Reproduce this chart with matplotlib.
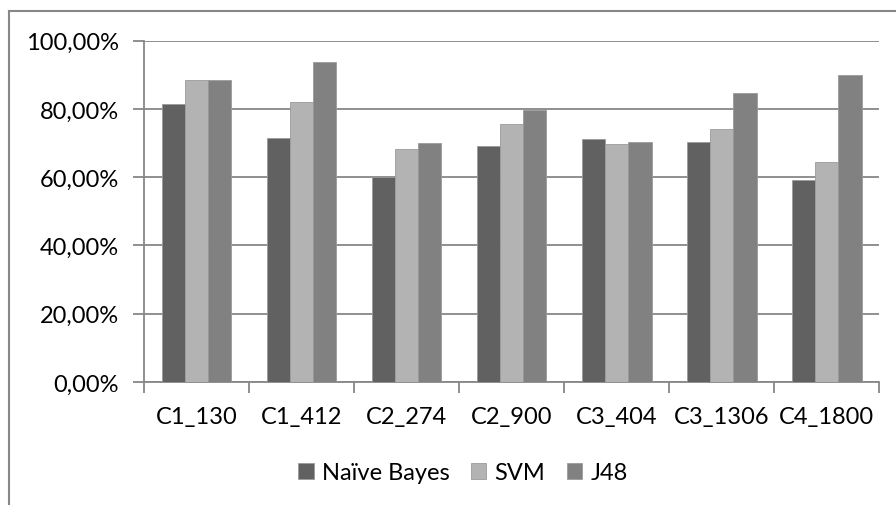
import numpy as np
import matplotlib.pyplot as plt
from matplotlib.lines import Line2D
from matplotlib.ticker import FuncFormatter

plt.rcParams['font.family'] = ['Lato', 'DejaVu Sans']

categories = ['C1_130', 'C1_412', 'C2_274', 'C2_900', 'C3_404', 'C3_1306', 'C4_1800']
naive_bayes = [81.5, 71.6, 60.0, 69.1, 71.2, 70.2, 59.1]
svm = [88.5, 82.0, 68.3, 75.5, 69.8, 74.2, 64.4]
j48 = [88.5, 93.8, 70.0, 79.8, 70.2, 84.7, 89.9]

series = [('Naïve Bayes', naive_bayes, '#616161'),
          ('SVM', svm, '#b3b3b3'),
          ('J48', j48, '#818181')]

grid_col = '#878787'
fs = 17

fig = plt.figure(figsize=(8.96, 5.06), dpi=100)
ax = fig.add_axes([144/896, 1-383/506, (879.3-144)/896, (383-41.7)/506])

x = np.arange(len(categories))
w = 0.221
for i, (name, vals, col) in enumerate(series):
    ax.bar(x + (i-1)*w, vals, w, color=col, label=name,
           edgecolor='#9a9a9a', linewidth=0.6, zorder=3)

ax.set_xlim(-0.5, len(categories)-0.5)
ax.set_ylim(0, 100)
ax.set_yticks(np.arange(0, 101, 20))
ax.yaxis.set_major_formatter(FuncFormatter(lambda v, p: f'{v:.2f}%'.replace('.', ',')))
ax.yaxis.grid(True, color=grid_col, linewidth=1.3, zorder=0)
ax.set_xticks(x)
ax.set_xticklabels(categories)
ax.set_xticks(np.arange(-0.5, len(categories), 1), minor=True)
ax.tick_params(axis='x', which='major', length=0, pad=17, labelsize=fs)
ax.tick_params(axis='x', which='minor', length=8, width=1.3, color=grid_col, direction='out')
ax.tick_params(axis='y', length=8, width=1.3, color=grid_col, pad=10, labelsize=fs)

for s in ['top', 'right']:
    ax.spines[s].set_visible(False)
for s in ['left', 'bottom']:
    ax.spines[s].set_color(grid_col)
    ax.spines[s].set_linewidth(1.3)

# outer frame
fig.add_artist(Line2D([9/896, 1], [1-12/506, 1-12/506], color=grid_col, lw=1.5, transform=fig.transFigure))
fig.add_artist(Line2D([9/896, 9/896], [0, 1-12/506], color=grid_col, lw=1.5, transform=fig.transFigure))

handles, labels = ax.get_legend_handles_labels()
fig.legend(handles, labels, loc='center', bbox_to_anchor=(463/896, 1-474/506), ncol=3,
           frameon=False, fontsize=fs, handlelength=0.65, handleheight=0.65,
           handletextpad=0.35, columnspacing=0.9)

fig.savefig('out.png', dpi=100)
